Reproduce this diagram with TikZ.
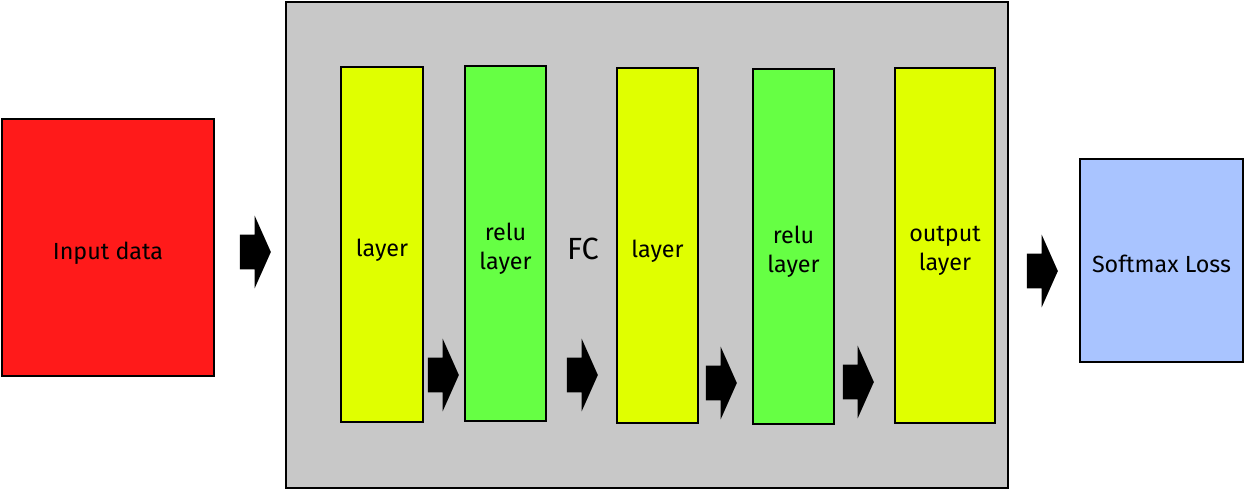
\documentclass[tikz,border=0pt]{standalone}
\usepackage{fontspec}
\setmainfont{Fira Sans}
\usetikzlibrary{shapes.arrows}
\definecolor{inred}{RGB}{255,26,26}
\definecolor{fcgray}{RGB}{200,200,200}
\definecolor{lyellow}{RGB}{224,255,0}
\definecolor{rgreen}{RGB}{102,255,68}
\definecolor{lossblue}{RGB}{169,196,255}
\begin{document}
\begin{tikzpicture}[x=0.75pt,y=-0.75pt,
	box/.style={draw=black,line width=1.5pt,inner sep=0pt},
	txt/.style={align=center,inner sep=0pt,font=\fontsize{17.5}{22}\selectfont,yshift=-4pt},
	blk/.style={box,minimum width=61pt,minimum height=266.25pt},
	flow/.style={single arrow,fill=black,draw=none,inner xsep=0pt,inner ysep=12.75pt,minimum height=23.25pt,single arrow head extend=14.25pt,single arrow tip angle=132}]
		
		\useasboundingbox (0,0) rectangle (1244,489);
		
		\node[box,fill=fcgray,minimum width=541.5pt,minimum height=364.5pt] (fc) at (647,245) {};
		\node[box,fill=inred,minimum width=159pt,minimum height=192.75pt,label={[txt]center:Input data}] (input) at (108,247.5) {};
		\node[box,fill=lossblue,minimum width=122.25pt,minimum height=152.25pt,label={[txt,yshift=1.5pt]center:Softmax Loss}] (loss) at (1161.5,260.5) {};
		
		\node[blk,fill=lyellow,label={[txt]center:layer}] (layer1) at (382,244.5) {};
		\node[blk,fill=rgreen,label={[txt]center:relu\\layer}] (relu1) at (505.5,243.5) {};
		\node[font=\fontsize{23}{26}\selectfont] (fclabel) at (583,249) {FC};
		\node[blk,fill=lyellow,label={[txt]center:layer}] (layer2) at (657.5,245.5) {};
		\node[blk,fill=rgreen,label={[txt]center:relu\\layer}] (relu2) at (793.5,246.5) {};
		\node[blk,fill=lyellow,minimum width=75pt,label={[txt]center:output\\layer}] (output) at (945,245.5) {};
		
		% block arrows
		\node[flow] (a1) at (251.5,252) {};
		\node[flow] (a2) at (439.5,375) {};
		\node[flow] (a3) at (578.5,375) {};
		\node[flow] (a4) at (717.5,383) {};
		\node[flow] (a5) at (854.5,382) {};
		\node[flow] (a6) at (1038.5,271) {};
		
		\end{tikzpicture}
\end{document}
